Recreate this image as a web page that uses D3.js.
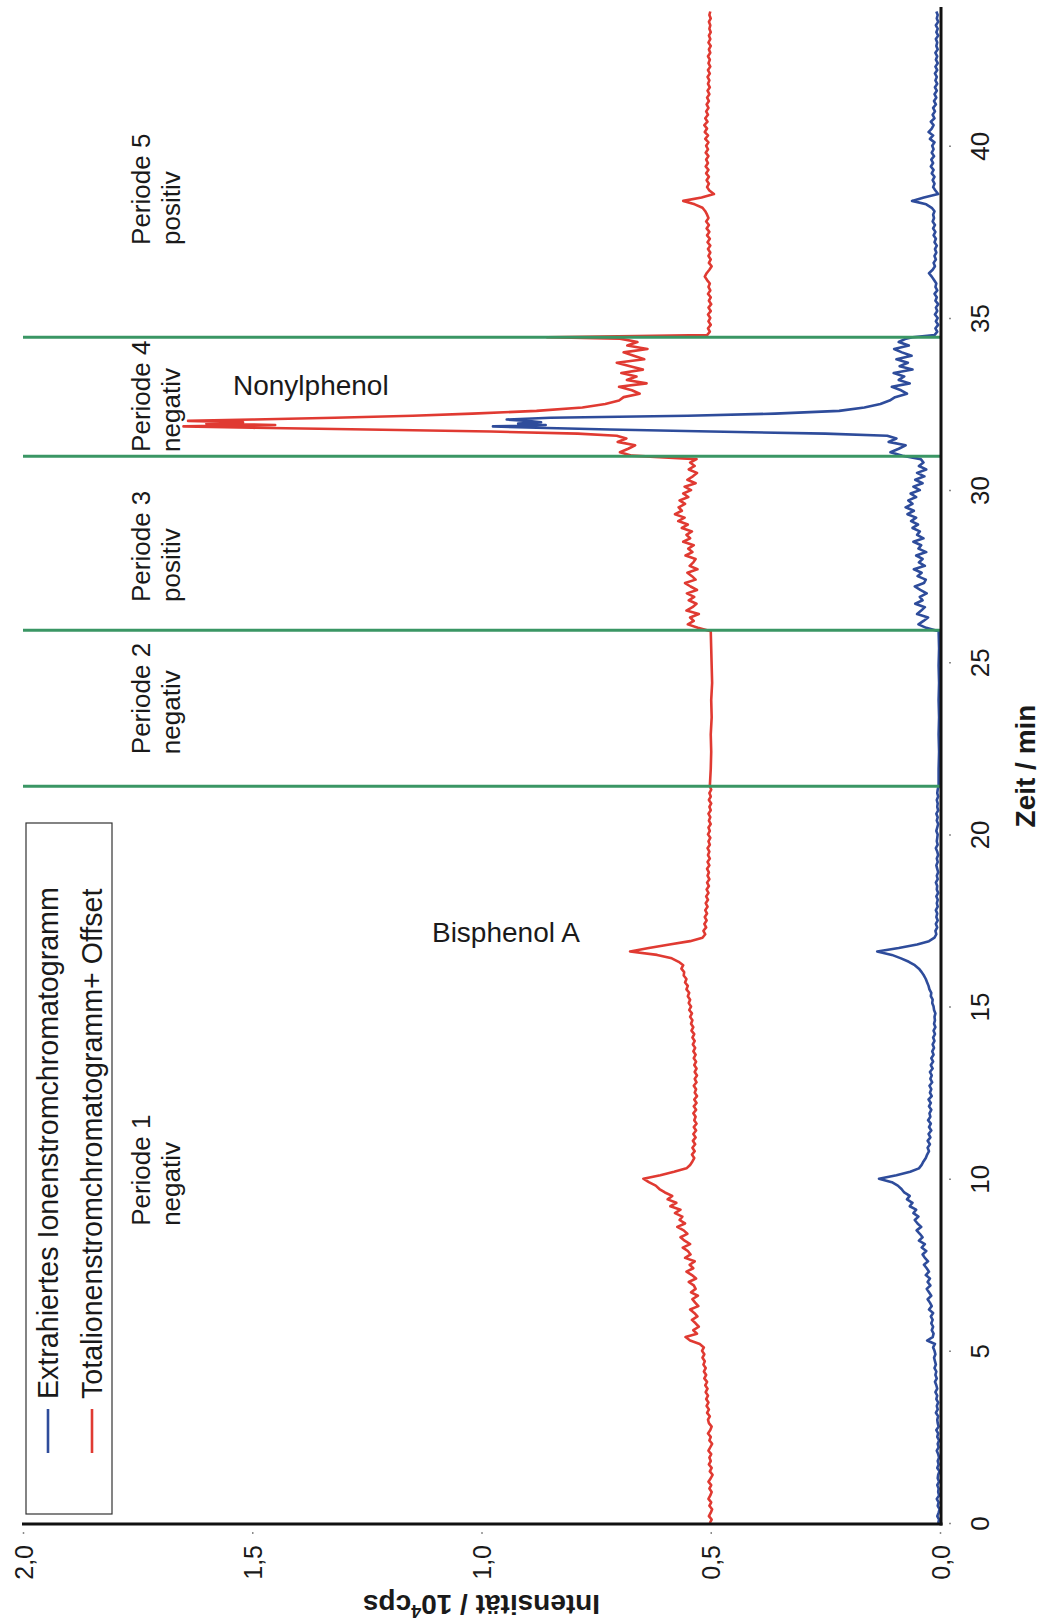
<!DOCTYPE html>
<html><head><meta charset="utf-8">
<script src="https://cdn.jsdelivr.net/npm/d3@7/dist/d3.min.js"></script>
<style>
body{margin:0;background:#fff}
svg{display:block}
text{font-family:"Liberation Sans",Arial,Helvetica,sans-serif;fill:#1a1a1a}
</style>
</head><body>
<svg id="chart" width="1042" height="1623"></svg>
<script>
// ---------------- data ----------------
const timeTicks = [0, 5, 10, 15, 20, 25, 30, 35, 40];
const intensityTicks = [0, 0.5, 1.0, 1.5, 2.0];
const periodBounds = [21.4, 25.93, 30.98, 34.44];
const periodNames = ["Periode 1", "Periode 2", "Periode 3", "Periode 4", "Periode 5"];
const periodModes = ["negativ", "negativ", "positiv", "negativ", "positiv"];
const periodLabelTimes = [8.63, 22.33, 26.75, 31.11, 37.12];
const peakNames = ["Bisphenol A", "Nonylphenol"];
const peakLabelTimes = [16.87, 32.76];
const peakLabelIntensity = [1.108, 1.542];
const seriesNames = ["Extrahiertes Ionenstromchromatogramm", "Totalionenstromchromatogramm+ Offset"];

// period 1: 0.0 .. 21.4 min, every 0.1 min
const p1Start = 0.0;
const eicP1 = [
0.004,0.002,0.006,0.003,0.001,0.005,0.003,0.007,0.002,0.004,
0.003,0.006,0.002,0.005,0.004,0.001,0.006,0.003,0.005,0.002,
0.004,0.007,0.003,0.005,0.002,0.006,0.004,0.008,0.003,0.005,
0.006,0.004,0.009,0.005,0.007,0.004,0.008,0.006,0.010,0.006,
0.008,0.011,0.007,0.010,0.008,0.012,0.009,0.011,0.013,0.010,
0.012,0.015,0.011,0.028,0.016,0.014,0.018,0.015,0.019,0.016,
0.020,0.015,0.024,0.018,0.022,0.027,0.019,0.024,0.029,0.021,
0.027,0.022,0.031,0.024,0.029,0.035,0.026,0.033,0.038,0.030,
0.040,0.033,0.046,0.038,0.044,0.051,0.041,0.049,0.055,0.047,
0.058,0.052,0.066,0.060,0.072,0.066,0.078,0.084,0.092,0.105,
0.133,0.095,0.065,0.046,0.040,0.036,0.031,0.028,0.024,0.027,
0.022,0.027,0.021,0.025,0.019,0.024,0.020,0.026,0.021,0.023,
0.019,0.024,0.020,0.025,0.018,0.022,0.019,0.023,0.017,0.021,
0.018,0.022,0.016,0.020,0.015,0.019,0.014,0.017,0.013,0.016,
0.012,0.015,0.011,0.014,0.010,0.013,0.011,0.012,0.010,0.013,
0.014,0.017,0.016,0.020,0.019,0.023,0.025,0.028,0.031,0.035,
0.040,0.046,0.055,0.068,0.085,0.105,0.137,0.090,0.050,0.024,
0.012,0.008,0.010,0.006,0.009,0.005,0.008,0.006,0.009,0.005,
0.007,0.005,0.008,0.004,0.007,0.006,0.009,0.005,0.007,0.004,
0.006,0.008,0.005,0.007,0.004,0.006,0.009,0.005,0.007,0.006,
0.005,0.008,0.006,0.004,0.007,0.005,0.008,0.004,0.006,0.005,
0.007,0.004,0.006,0.005,0.003];
const ticP1 = [
0.502,0.498,0.504,0.500,0.497,0.503,0.499,0.505,0.501,0.498,
0.503,0.499,0.505,0.500,0.496,0.502,0.498,0.504,0.500,0.503,
0.499,0.505,0.501,0.497,0.503,0.500,0.506,0.501,0.498,0.504,
0.506,0.502,0.508,0.504,0.509,0.505,0.510,0.506,0.511,0.507,
0.512,0.508,0.514,0.510,0.515,0.511,0.516,0.513,0.518,0.514,
0.519,0.515,0.524,0.545,0.555,0.530,0.538,0.526,0.533,0.541,
0.529,0.536,0.545,0.527,0.534,0.540,0.528,0.543,0.533,0.537,
0.548,0.532,0.541,0.553,0.538,0.546,0.535,0.556,0.544,0.550,
0.561,0.545,0.557,0.566,0.551,0.559,0.573,0.556,0.568,0.562,
0.578,0.566,0.588,0.575,0.594,0.584,0.600,0.612,0.620,0.635,
0.647,0.610,0.580,0.553,0.545,0.540,0.536,0.541,0.535,0.540,
0.534,0.539,0.533,0.538,0.532,0.537,0.531,0.536,0.533,0.538,
0.532,0.537,0.531,0.536,0.530,0.535,0.532,0.537,0.531,0.535,
0.530,0.535,0.531,0.536,0.532,0.537,0.533,0.538,0.534,0.539,
0.535,0.540,0.536,0.542,0.538,0.543,0.540,0.545,0.541,0.547,
0.543,0.548,0.545,0.550,0.547,0.553,0.550,0.556,0.553,0.559,
0.558,0.564,0.560,0.570,0.585,0.617,0.676,0.635,0.590,0.545,
0.518,0.512,0.516,0.510,0.514,0.509,0.513,0.508,0.512,0.507,
0.511,0.506,0.510,0.505,0.509,0.504,0.508,0.503,0.507,0.504,
0.508,0.503,0.507,0.502,0.506,0.503,0.507,0.502,0.505,0.501,
0.506,0.502,0.505,0.500,0.504,0.501,0.505,0.500,0.503,0.499,
0.504,0.500,0.503,0.499,0.502];

// period 2: smooth
const p2Times = [21.9, 22.4, 22.9, 23.4, 23.9, 24.4, 24.9, 25.4, 25.9];
const eicP2 = [0.003, 0.002, 0.003, 0.002, 0.003, 0.002, 0.003, 0.002, 0.003];
const ticP2 = [0.500, 0.499, 0.500, 0.498, 0.499, 0.497, 0.498, 0.499, 0.500];

// period 3: 26.0 .. 30.9 min, every 0.1 min
const p3Start = 26.0;
const eicP3 = [
0.030,0.047,0.036,0.026,0.050,0.041,0.033,0.054,0.038,0.044,
0.029,0.043,0.055,0.035,0.031,0.049,0.040,0.057,0.033,0.046,
0.038,0.052,0.030,0.047,0.041,0.058,0.036,0.050,0.044,0.060,
0.048,0.063,0.052,0.071,0.057,0.075,0.060,0.069,0.052,0.064,
0.044,0.058,0.038,0.054,0.034,0.050,0.030,0.046,0.036,0.042];
const ticP3 = [
0.528,0.550,0.537,0.545,0.526,0.553,0.540,0.531,0.548,0.536,
0.552,0.530,0.544,0.556,0.533,0.541,0.551,0.529,0.546,0.538,
0.533,0.555,0.540,0.549,0.537,0.560,0.545,0.553,0.541,0.563,
0.550,0.571,0.557,0.578,0.563,0.570,0.556,0.568,0.549,0.560,
0.543,0.557,0.533,0.551,0.539,0.530,0.548,0.535,0.545,0.531];

// period 4 (Nonylphenol)
const p4Times = [31.0,31.1,31.2,31.3,31.4,31.5,31.58,31.64,31.7,31.76,31.81,31.85,31.89,31.93,31.97,32.01,32.05,32.1,32.16,32.22,32.3,32.4,32.5,32.6,
32.7,32.8,32.9,33.0,33.1,33.2,33.3,33.4,33.5,33.6,33.7,33.8,33.9,34.0,34.1,34.2,34.3,34.4,34.44];
const eicP4 = [0.082,0.108,0.090,0.075,0.112,0.095,0.115,0.25,0.50,0.72,0.88,0.975,0.86,0.92,0.87,0.90,0.945,0.85,0.55,0.36,0.22,0.165,0.13,0.11,
0.098,0.072,0.085,0.105,0.066,0.090,0.078,0.101,0.060,0.088,0.070,0.095,0.062,0.083,0.100,0.068,0.090,0.074,0.060];
const ticP4 = [0.672,0.698,0.680,0.665,0.703,0.684,0.705,0.79,0.98,1.25,1.50,1.65,1.45,1.60,1.52,1.64,1.50,1.32,1.15,1.02,0.88,0.78,0.73,0.70,
0.690,0.655,0.672,0.700,0.640,0.683,0.662,0.695,0.648,0.676,0.705,0.645,0.668,0.690,0.638,0.682,0.660,0.698,0.857];

// period 5: 34.5 .. 43.9 min, every 0.1 min
const p5Start = 34.5;
const eicP5 = [
0.012,0.006,0.010,0.004,0.009,
0.005,0.011,0.006,0.009,0.004,0.010,0.007,0.012,0.006,0.010,
0.008,0.013,0.018,0.024,0.016,0.011,0.014,0.009,0.012,0.008,
0.011,0.007,0.012,0.009,0.014,0.010,0.015,0.011,0.016,0.013,
0.015,0.012,0.018,0.030,0.061,0.035,0.004,0.010,0.015,0.012,
0.016,0.012,0.018,0.014,0.020,0.015,0.019,0.013,0.018,0.014,
0.017,0.012,0.022,0.015,0.025,0.018,0.014,0.020,0.012,0.016,
0.011,0.015,0.009,0.013,0.008,0.012,0.007,0.011,0.006,0.010,
0.007,0.011,0.006,0.010,0.005,0.009,0.006,0.010,0.005,0.008,
0.006,0.009,0.004,0.008,0.005,0.009,0.004,0.007,0.005,0.008];
const ticP5 = [
0.508,0.502,0.506,0.500,0.505,
0.501,0.506,0.500,0.505,0.499,0.504,0.500,0.506,0.501,0.505,
0.502,0.508,0.513,0.509,0.503,0.498,0.504,0.500,0.505,0.501,
0.506,0.501,0.507,0.502,0.508,0.503,0.509,0.504,0.510,0.505,
0.508,0.512,0.518,0.535,0.560,0.520,0.493,0.503,0.508,0.504,
0.509,0.504,0.510,0.505,0.511,0.506,0.510,0.505,0.511,0.506,
0.510,0.505,0.512,0.506,0.513,0.508,0.514,0.507,0.512,0.506,
0.510,0.505,0.509,0.504,0.508,0.503,0.507,0.502,0.506,0.503,
0.507,0.502,0.506,0.501,0.505,0.502,0.506,0.501,0.504,0.500,
0.505,0.501,0.504,0.500,0.503,0.501,0.504,0.500,0.503,0.501];

// ---------------- assemble series ----------------
const step = 0.1;
function gridSeries(start, vals) { return vals.map((v, i) => [+(start + i * step).toFixed(2), v]); }
function listSeries(times, vals) { return vals.map((v, i) => [times[i], v]); }
const eic = [].concat(gridSeries(p1Start, eicP1), listSeries(p2Times, eicP2), gridSeries(p3Start, eicP3), listSeries(p4Times, eicP4), gridSeries(p5Start, eicP5));
const tic = [].concat(gridSeries(p1Start, ticP1), listSeries(p2Times, ticP2), gridSeries(p3Start, ticP3), listSeries(p4Times, ticP4), gridSeries(p5Start, ticP5));

// ---------------- scales ----------------
const svg = d3.select("#chart");
const yT = d3.scaleLinear().domain([0, 44]).range([1523, 1523 - 44 * 34.43]); // time -> vertical
const xI = d3.scaleLinear().domain([0, 2]).range([940, 23]);                  // intensity -> horizontal

const colBlue = "#2e4c9b", colRed = "#e03a32", colGreen = "#3a9664";

const line = d3.line().x(d => xI(d[1])).y(d => yT(d[0]));

svg.append("path").datum(tic).attr("d", line)
  .attr("fill", "none").attr("stroke", colRed).attr("stroke-width", 2.6).attr("stroke-linejoin", "round");
svg.append("path").datum(eic).attr("d", line)
  .attr("fill", "none").attr("stroke", colBlue).attr("stroke-width", 2.6).attr("stroke-linejoin", "round");

// period boundaries
svg.selectAll("line.bound").data(periodBounds).enter().append("line")
  .attr("class", "bound")
  .attr("x1", xI(2)).attr("x2", xI(0))
  .attr("y1", d => yT(d)).attr("y2", d => yT(d))
  .attr("stroke", colGreen).attr("stroke-width", 3);

// axes
const tAxis = svg.append("g").attr("transform", `translate(${xI(0) + 1},0)`)
  .call(d3.axisRight(yT).tickValues(timeTicks).tickSize(11).tickFormat(d3.format("d")));
tAxis.select(".domain").remove();
tAxis.selectAll(".tick line").attr("stroke", "#8a8a8a").attr("stroke-width", 1.5).attr("stroke-dasharray", "0,8,2,40");
tAxis.selectAll(".tick text")
  .attr("x", 0).attr("dy", null).attr("text-anchor", "middle")
  .attr("transform", "translate(48,0) rotate(-90)")
  .style("font-size", "26px").attr("fill", "#1a1a1a")
  .style("font-family", '"Liberation Sans",Arial,sans-serif');

const iAxis = svg.append("g").attr("transform", `translate(0,${yT(0) + 1})`)
  .call(d3.axisBottom(xI).tickValues(intensityTicks).tickSize(11)
    .tickFormat(d => d3.format(".1f")(d).replace(".", ",")));
iAxis.select(".domain").remove();
iAxis.selectAll(".tick line").attr("stroke", "#8a8a8a").attr("stroke-width", 1.5).attr("stroke-dasharray", "0,8,2,40");
iAxis.selectAll(".tick text")
  .attr("y", 0).attr("dy", null).attr("text-anchor", "end")
  .attr("transform", "translate(9,21) rotate(-90)")
  .style("font-size", "25px").attr("fill", "#1a1a1a")
  .style("font-family", '"Liberation Sans",Arial,sans-serif');

// black axis lines
svg.append("line").attr("x1", xI(0) + 1).attr("x2", xI(0) + 1).attr("y1", yT(44) - 1).attr("y2", yT(0) + 2.5)
  .attr("stroke", "#111").attr("stroke-width", 3);
svg.append("line").attr("x1", xI(2) - 1).attr("x2", xI(0) + 2.5).attr("y1", yT(0) + 1).attr("y2", yT(0) + 1)
  .attr("stroke", "#111").attr("stroke-width", 3);

// axis titles
svg.append("text").attr("transform", "translate(1035,766) rotate(-90)")
  .attr("text-anchor", "middle").style("font-size", "28px").style("font-weight", "bold")
  .text("Zeit / min");
const it = svg.append("text").attr("transform", `translate(${xI(1)},1595) rotate(180)`)
  .attr("text-anchor", "middle").style("font-size", "28px").style("font-weight", "bold");
it.append("tspan").text("Intensität / 10");
it.append("tspan").attr("baseline-shift", "super").style("font-size", "18px").text("4");
it.append("tspan").text("cps");

// period labels
const pl = svg.selectAll("g.plabel").data(periodNames).enter().append("g").attr("class", "plabel");
pl.append("text").attr("transform", (d, i) => `translate(${xI(1.723)},${yT(periodLabelTimes[i])}) rotate(-90)`)
  .style("font-size", "26px").text(d => d);
pl.append("text").attr("transform", (d, i) => `translate(${xI(1.723) + 30},${yT(periodLabelTimes[i])}) rotate(-90)`)
  .style("font-size", "26px").text((d, i) => periodModes[i]);

// peak labels
svg.selectAll("text.peak").data(peakNames).enter().append("text").attr("class", "peak")
  .attr("x", (d, i) => xI(peakLabelIntensity[i])).attr("y", (d, i) => yT(peakLabelTimes[i]))
  .style("font-size", "28px").text(d => d);

// legend
const lg = svg.append("g");
lg.append("rect").attr("x", 26).attr("y", 823).attr("width", 86).attr("height", 691)
  .attr("fill", "#fff").attr("stroke", "#333").attr("stroke-width", 1.2);
const legCols = [colBlue, colRed];
seriesNames.forEach((name, i) => {
  const bx = 58 + i * 44;
  lg.append("line").attr("x1", bx - 10).attr("x2", bx - 10).attr("y1", 1409).attr("y2", 1453)
    .attr("stroke", legCols[i]).attr("stroke-width", 2.6);
  lg.append("text").attr("transform", `translate(${bx},1399) rotate(-90)`)
    .style("font-size", "28.6px").text(name);
});
</script>
</body></html>
